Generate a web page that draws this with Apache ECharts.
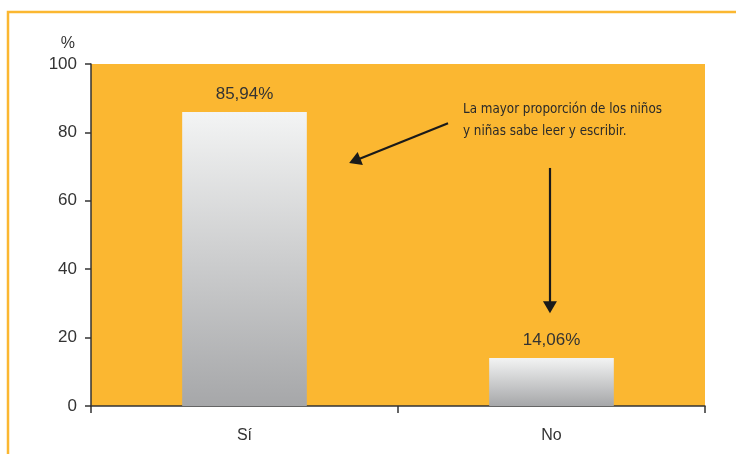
<!DOCTYPE html>
<html><head><meta charset="utf-8">
<script src="https://cdn.jsdelivr.net/npm/echarts@6/dist/echarts.min.js"></script>
<style>html,body{margin:0;padding:0;background:#fff}#c{width:736px;height:454px}</style>
</head><body><div id="c"></div>
<script>
const categories = ['Sí', 'No'];
const values = [85.94, 14.06];
const valueLabels = ['85,94%', '14,06%'];
const yTicks = [0, 20, 40, 60, 80, 100];
const noteLines = ['La mayor proporción de los niños', 'y niñas sabe leer y escribir.'];
// arrows in data coordinates: [xCat (0..2 continuous), yValue]
const arrow1 = [[1.163, 82.7], [0.859, 71.7]];
const arrow2 = [[1.495, 69.6], [1.495, 28.9]];
const notePos = [1.21, 83.5];

const orange = '#FBB731';
const chart = echarts.init(document.getElementById('c'));
chart.setOption({
  animation: false,
  backgroundColor: '#fff',
  grid: { left: 91, right: 31, top: 64, bottom: 48, show: true, backgroundColor: orange, borderWidth: 0 },
  xAxis: [{
    type: 'category', data: categories,
    axisLine: { lineStyle: { color: '#333', width: 1.5 } },
    axisTick: { show: true, length: 7, lineStyle: { color: '#333', width: 1.5 } },
    axisLabel: { color: '#333', fontSize: 16, margin: 22, fontFamily: 'Liberation Sans' }
  }, {
    type: 'value', min: 0, max: 2, show: false
  }],
  yAxis: {
    type: 'value', min: yTicks[0], max: yTicks[yTicks.length - 1], interval: 20,
    name: '%', nameLocation: 'end', nameGap: 12,
    nameTextStyle: { color: '#333', fontSize: 16, align: 'right', padding: [0, 16, 0, 0], fontFamily: 'Liberation Sans' },
    axisLine: { show: true, lineStyle: { color: '#333', width: 1.5 } },
    axisTick: { show: true, length: 6, lineStyle: { color: '#333', width: 1.5 } },
    axisLabel: { color: '#333', fontSize: 17, margin: 14, fontFamily: 'Liberation Sans' },
    splitLine: { show: false }
  },
  series: [{
    type: 'bar', data: values, barWidth: '40.6%', xAxisIndex: 0,
    itemStyle: { color: new echarts.graphic.LinearGradient(0, 0, 0, 1, [
      { offset: 0, color: '#f3f4f4' }, { offset: 1, color: '#a6a7a9' }]) },
    label: { show: true, position: 'top', distance: 9, color: '#333', fontSize: 17,
      fontFamily: 'Liberation Sans',
      formatter: p => valueLabels[p.dataIndex] }
  }, {
    type: 'line', xAxisIndex: 1, data: [], symbol: 'none',
    markLine: {
      silent: true, symbol: ['none', 'triangle'], symbolSize: [14, 12],
      label: { show: false },
      lineStyle: { color: '#1a1a1a', width: 2.2, type: 'solid' },
      data: [
        [{ coord: arrow1[0] }, { coord: arrow1[1] }],
        [{ coord: arrow2[0] }, { coord: arrow2[1] }]
      ]
    },
    markPoint: {
      silent: true, symbol: 'rect', symbolSize: 1, itemStyle: { color: 'transparent' },
      label: { show: true, position: 'right', distance: 0, color: '#2a2a2a', fontSize: 13.3, lineHeight: 22,
        fontFamily: "'Liberation Sans Narrow', 'DejaVu Sans Condensed', 'Liberation Sans', sans-serif", align: 'left',
        formatter: () => noteLines.join('\n') },
      data: [{ coord: notePos }]
    }
  }],
  graphic: [{
    type: 'rect', shape: { x: 8, y: 12, width: 800, height: 600 },
    style: { fill: 'none', stroke: orange, lineWidth: 2.5 }, silent: true
  }]
});
</script></body></html>
